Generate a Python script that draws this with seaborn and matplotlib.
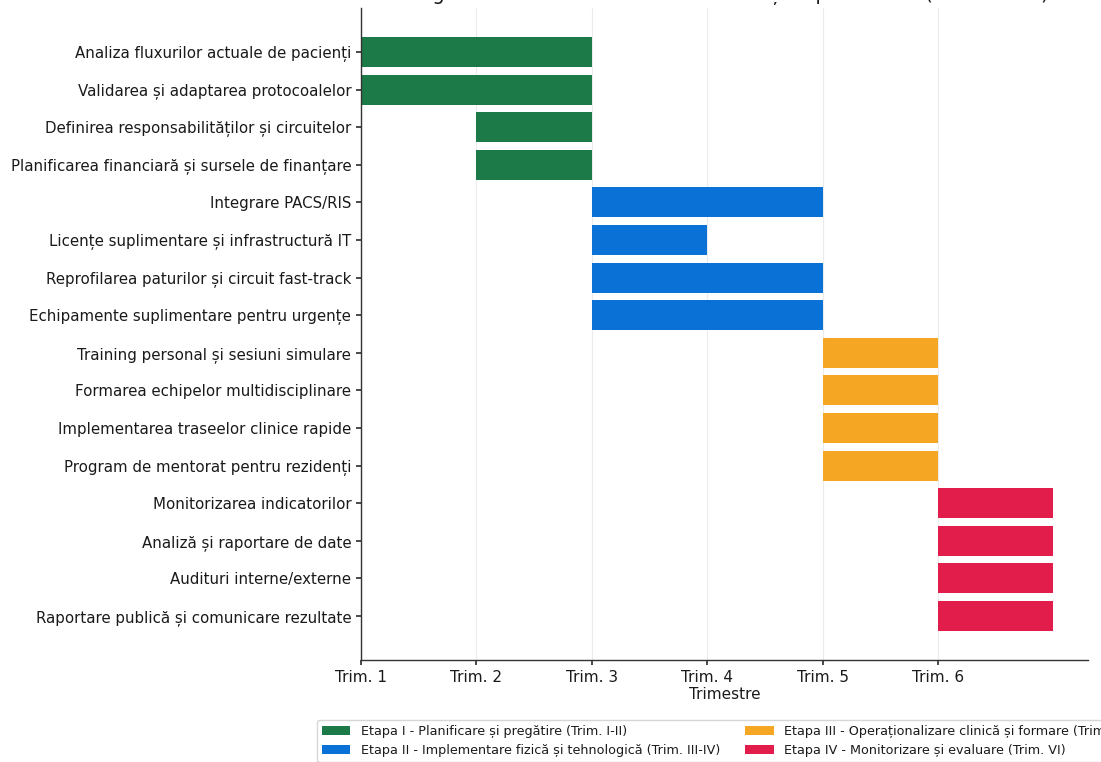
import matplotlib
matplotlib.use("Agg")
import matplotlib.pyplot as plt
from matplotlib.patches import Patch
import seaborn as sns
import pandas as pd

# ---- data ----
tasks = [
    "Analiza fluxurilor actuale de pacienți",
    "Validarea și adaptarea protocoalelor",
    "Definirea responsabilităților și circuitelor",
    "Planificarea financiară și sursele de finanțare",
    "Integrare PACS/RIS",
    "Licențe suplimentare și infrastructură IT",
    "Reprofilarea paturilor și circuit fast-track",
    "Echipamente suplimentare pentru urgențe",
    "Training personal și sesiuni simulare",
    "Formarea echipelor multidisciplinare",
    "Implementarea traseelor clinice rapide",
    "Program de mentorat pentru rezidenți",
    "Monitorizarea indicatorilor",
    "Analiză și raportare de date",
    "Audituri interne/externe",
    "Raportare publică și comunicare rezultate",
]
starts = [1, 1, 2, 2, 3, 3, 3, 3, 5, 5, 5, 5, 6, 6, 6, 6]
durations = [2, 2, 1, 1, 2, 1, 2, 2, 1, 1, 1, 1, 1, 1, 1, 1]
phases = ["I"] * 4 + ["II"] * 4 + ["III"] * 4 + ["IV"] * 4

phase_names = ["I", "II", "III", "IV"]
phase_labels = [
    "Etapa I - Planificare și pregătire (Trim. I-II)",
    "Etapa II - Implementare fizică și tehnologică (Trim. III-IV)",
    "Etapa III - Operaționalizare clinică și formare (Trim. V)",
    "Etapa IV - Monitorizare și evaluare (Trim. VI)",
]
phase_colors = ["#1b7a47", "#0a72d6", "#f5a623", "#e31d4b"]

tick_positions = [1, 2, 3, 4, 5, 6]
tick_labels = ["Trim. 1", "Trim. 2", "Trim. 3", "Trim. 4", "Trim. 5", "Trim. 6"]

title = "Diagrama Gantt – Planificarea activităților proiectului (6 trimestre)"

df = pd.DataFrame({"task": tasks, "start": starts, "dur": durations, "phase": phases})

# ---- style ----
sns.set_theme(style="whitegrid", rc={
    "grid.color": "#ebebeb",
    "grid.linewidth": 0.8,
    "axes.edgecolor": "#333333",
    "axes.linewidth": 1.0,
    "xtick.bottom": True,
    "ytick.left": True,
    "xtick.major.size": 3.5,
    "ytick.major.size": 3.5,
    "xtick.color": "#333333",
    "ytick.color": "#333333",
    "xtick.labelcolor": "#1a1a1a",
    "ytick.labelcolor": "#1a1a1a",
    "text.color": "#1a1a1a",
    "axes.labelcolor": "#1a1a1a",
})
plt.rcParams["font.family"] = ["DejaVu Sans"]

fig = plt.figure(figsize=(11.01, 7.62), dpi=100)
ax = fig.add_axes([0.3279, 0.1339, 0.6603, 0.8556])

for name, color in zip(phase_names, phase_colors):
    sub = df[df["phase"] == name]
    sns.barplot(data=sub, x="dur", y="task", order=tasks, color=color,
                left=sub["start"].to_numpy(), width=0.8, orient="y",
                saturation=1, linewidth=0, ax=ax, errorbar=None)

ax.set_xlim(1, 7.3)
ax.set_ylim(15 + 1.17, -1.17)
ax.set_xticks(tick_positions)
ax.set_xticklabels(tick_labels, fontsize=11)
ax.tick_params(axis="y", labelsize=10.8)
ax.set_xlabel("Trimestre", fontsize=11, labelpad=1.5)
ax.set_ylabel("")
ax.set_title(title, fontsize=14, pad=5.5)
ax.set_axisbelow(True)
sns.despine(ax=ax)

handles = [Patch(facecolor=c, edgecolor="none", label=l) for c, l in zip(phase_colors, phase_labels)]
ax.legend(handles=handles, loc="upper center", bbox_to_anchor=(0.5, -0.082),
          ncol=2, fontsize=9.2, frameon=True, handlelength=2.2)

fig.savefig("out.png", dpi=100)
